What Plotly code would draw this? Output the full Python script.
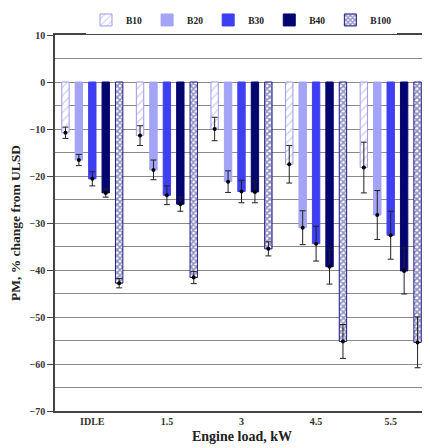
import plotly.graph_objects as go

categories = ["IDLE", "1.5", "3", "4.5", "5.5"]
series_names = ["B10", "B20", "B30", "B40", "B100"]

b10 = [-10.8, -11.4, -10.0, -17.5, -18.2]
b20 = [-16.6, -18.7, -21.2, -31.0, -28.3]
b30 = [-20.6, -24.1, -23.3, -34.4, -32.6]
b40 = [-23.6, -26.0, -23.4, -39.3, -40.2]
b100 = [-42.8, -41.6, -35.5, -55.2, -55.4]

b10_err = [1.2, 2.1, 2.5, 4.0, 5.4]
b20_err = [1.2, 2.1, 2.3, 3.6, 5.2]
b30_err = [1.5, 2.0, 2.4, 3.7, 5.1]
b40_err = [0.9, 1.5, 2.3, 3.7, 4.9]
b100_err = [1.0, 1.3, 1.5, 3.6, 5.4]

values = [b10, b20, b30, b40, b100]
errors = [b10_err, b20_err, b30_err, b40_err, b100_err]

fills = ["white", "#a3a3f7", "#3f3ff2", "#050570", "white"]
lines = ["#9a9ae8", "#a3a3f7", "#3f3ff2", "#050570", "#1c1c80"]
patterns = [
    dict(shape="/", fgcolor="#a8a8ea", bgcolor="white", size=6, solidity=0.25),
    None, None, None,
    dict(shape="x", fgcolor="#23238c", bgcolor="white", size=4, solidity=0.65),
]

serif = "Liberation Serif"
fig = go.Figure()
for i, name in enumerate(series_names):
    kw = dict(marker_color=fills[i], marker_line=dict(color=lines[i], width=1))
    if patterns[i] is not None:
        kw["marker_pattern"] = patterns[i]
    fig.add_trace(go.Bar(x=categories, y=values[i], name=name, **kw))

for i, name in enumerate(series_names):
    fig.add_trace(go.Scatter(
        x=categories, y=values[i], mode="markers", showlegend=False,
        marker=dict(color="black", size=4),
        error_y=dict(type="data", array=errors[i], visible=True,
                     color="#222222", thickness=1, width=3),
        hoverinfo="skip"))

# page body has an 8px default margin, so the figure is sized to fit the window
fig.update_layout(
    width=422, height=440,
    margin=dict(l=47, r=2, t=27, b=37, autoexpand=False),
    plot_bgcolor="white", paper_bgcolor="white",
    barmode="group", bargap=0.1, bargroupgap=0.45,
    scattermode="group", scattergap=0.1,
    font=dict(family=serif, color="#222222", size=10),
    legend=dict(orientation="h", x=0.5, xanchor="center", y=1.04, yanchor="middle",
                font=dict(family=serif, size=9.5, weight="bold"),
                itemwidth=30, traceorder="normal"),
    showlegend=True,
    annotations=[dict(text="Engine load, kW", xref="paper", yref="paper",
                      x=0.5, y=-0.068, xanchor="center", yanchor="middle",
                      showarrow=False,
                      font=dict(family=serif, size=14, weight="bold", color="#222222"))],
)
fig.update_yaxes(
    range=[-70, 10], tickvals=list(range(-70, 11, 10)),
    automargin=False,
    showgrid=True, gridcolor="#8a8a8a", gridwidth=1,
    minor=dict(dtick=5, showgrid=True, gridcolor="#8a8a8a", gridwidth=1, tick0=5),
    showline=True, linecolor="#444444", linewidth=1.5, mirror=True,
    ticks="outside", ticklen=6, tickcolor="#444444",
    zeroline=False,
    tickfont=dict(family=serif, size=10, weight="bold", color="#333333"),
    title=dict(text="PM, % change from ULSD", standoff=10,
               font=dict(family=serif, size=13.5, weight="bold", color="#222222")),
)
fig.update_xaxes(
    automargin=False,
    showline=True, linecolor="#444444", linewidth=1.5, mirror=True,
    ticks="", showgrid=False,
    tickfont=dict(family=serif, size=10, weight="bold", color="#333333"),
)
fig.write_html("out.html")
